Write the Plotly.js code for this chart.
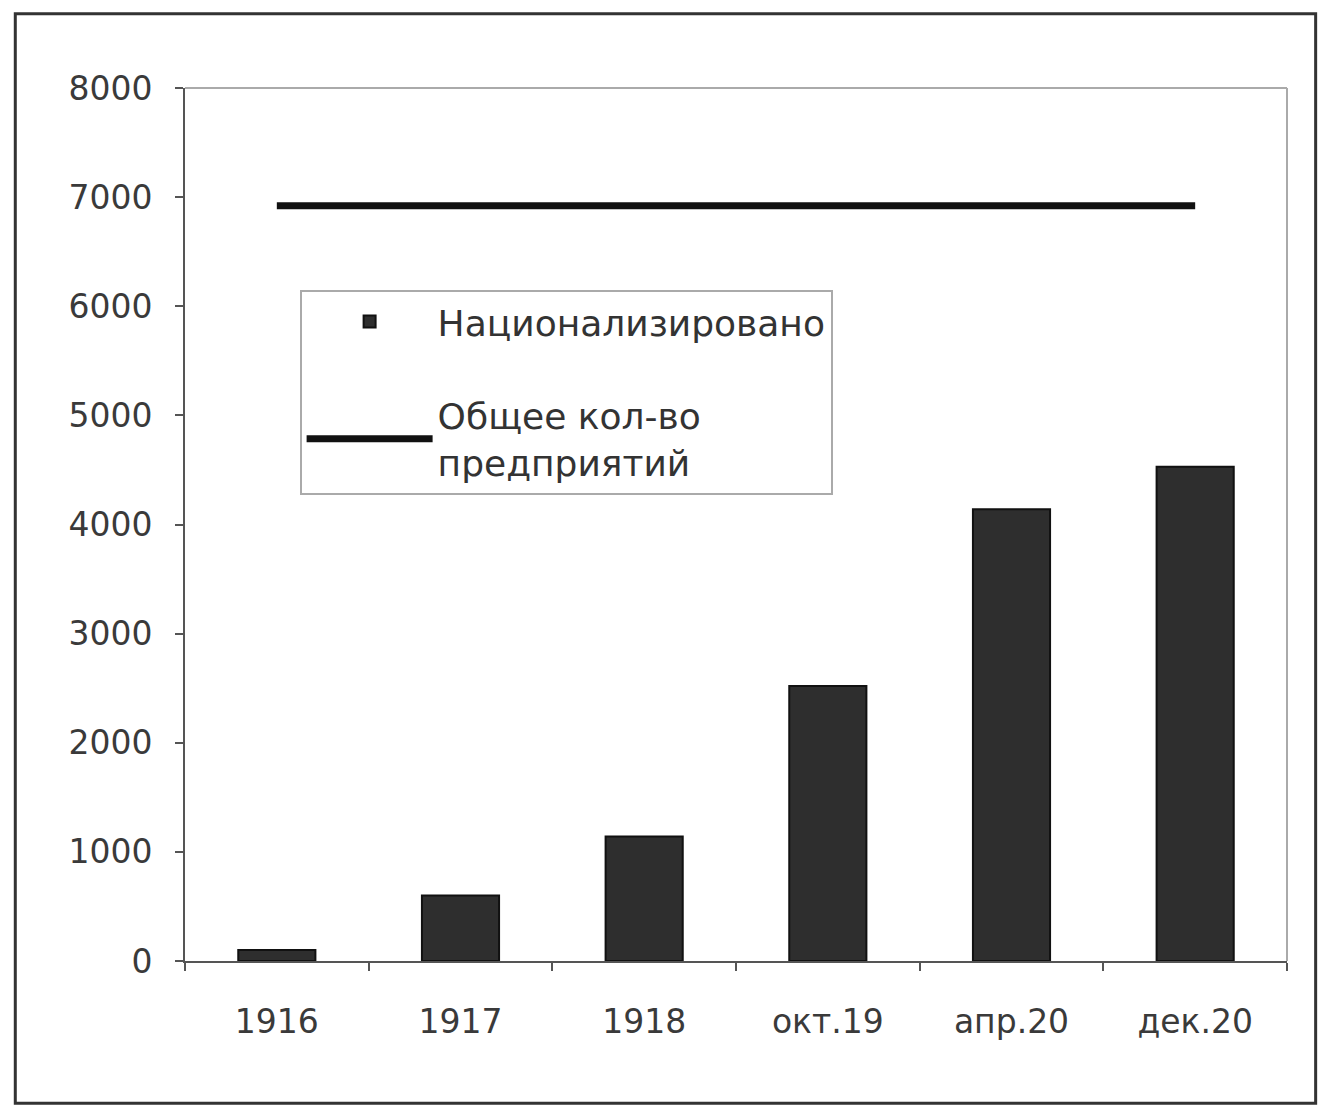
<!DOCTYPE html>
<html>
<head>
<meta charset="utf-8">
<script src="https://cdn.plot.ly/plotly-3.0.1.min.js"></script>
<style>html,body{margin:0;padding:0;background:#fff;}#chart{width:1318px;height:1107px;}</style>
</head>
<body>
<div id="chart"></div>
<script>
const categories = ["1916", "1917", "1918", "окт.19", "апр.20", "дек.20"];
const nationalized = [100, 600, 1140, 2520, 4140, 4530];
const totalEnterprises = [6920, 6920, 6920, 6920, 6920, 6920];
const yTicks = [0, 1000, 2000, 3000, 4000, 5000, 6000, 7000, 8000];
const seriesNames = ["Национализировано", "Общее кол-во<br>предприятий"];

const font = "DejaVu Sans, Arial, sans-serif";
const barColor = "#2e2e2e";

const traces = [
  {
    type: "bar",
    x: categories,
    y: nationalized,
    name: seriesNames[0],
    legendgroup: "a",
    marker: { color: barColor, line: { color: "#111", width: 2 } },
    hoverinfo: "x+y"
  },
  {
    type: "scatter",
    mode: "lines",
    x: categories,
    y: totalEnterprises,
    name: seriesNames[1],
    legendgroup: "b",
    line: { color: "#111", width: 7 },
    hoverinfo: "x+y"
  }
];

const layout = {
  width: 1318,
  height: 1107,
  margin: { l: 185, r: 31, t: 88, b: 146 },
  paper_bgcolor: "#fff",
  plot_bgcolor: "#fff",
  bargap: 0.58,
  showlegend: true,
  legend: {
    x: 0.104, y: 0.769, xanchor: "left", yanchor: "top",
    bgcolor: "#fff", bordercolor: "#aaa", borderwidth: 2,
    font: { family: font, size: 36, color: "#333" },
    itemwidth: 126,
    tracegroupgap: 44,
    traceorder: "grouped"
  },
  xaxis: {
    type: "category",
    showline: true, linecolor: "#555", linewidth: 2,
    ticks: "outside", ticklen: 8, tickcolor: "#555", tickwidth: 2,
    tickson: "boundaries",
    showgrid: false, zeroline: false,
    tickfont: { family: font, size: 33, color: "#3a3a3a" },
    ticklabelstandoff: 30,
    fixedrange: true
  },
  yaxis: {
    range: [0, 8000],
    tickvals: yTicks,
    ticktext: yTicks.map(String),
    showline: true, linecolor: "#555", linewidth: 2,
    ticks: "outside", ticklen: 8, tickcolor: "#555", tickwidth: 2,
    showgrid: false, zeroline: false,
    tickfont: { family: font, size: 33, color: "#3a3a3a" },
    ticklabelstandoff: 16,
    fixedrange: true
  },
  shapes: [
    { type: "line", xref: "paper", yref: "paper", x0: 0, x1: 1, y0: 1, y1: 1, line: { color: "#aaa", width: 2 } },
    { type: "line", xref: "paper", yref: "paper", x0: 1, x1: 1, y0: 0, y1: 1, line: { color: "#aaa", width: 2 } },
    { type: "rect", xref: "paper", yref: "paper", x0: -0.154, x1: 1.026, y0: -0.163, y1: 1.085, line: { color: "#333", width: 3 }, layer: "below" }
  ]
};

Plotly.newPlot("chart", traces, layout, { displayModeBar: false, staticPlot: true });
</script>
</body>
</html>
